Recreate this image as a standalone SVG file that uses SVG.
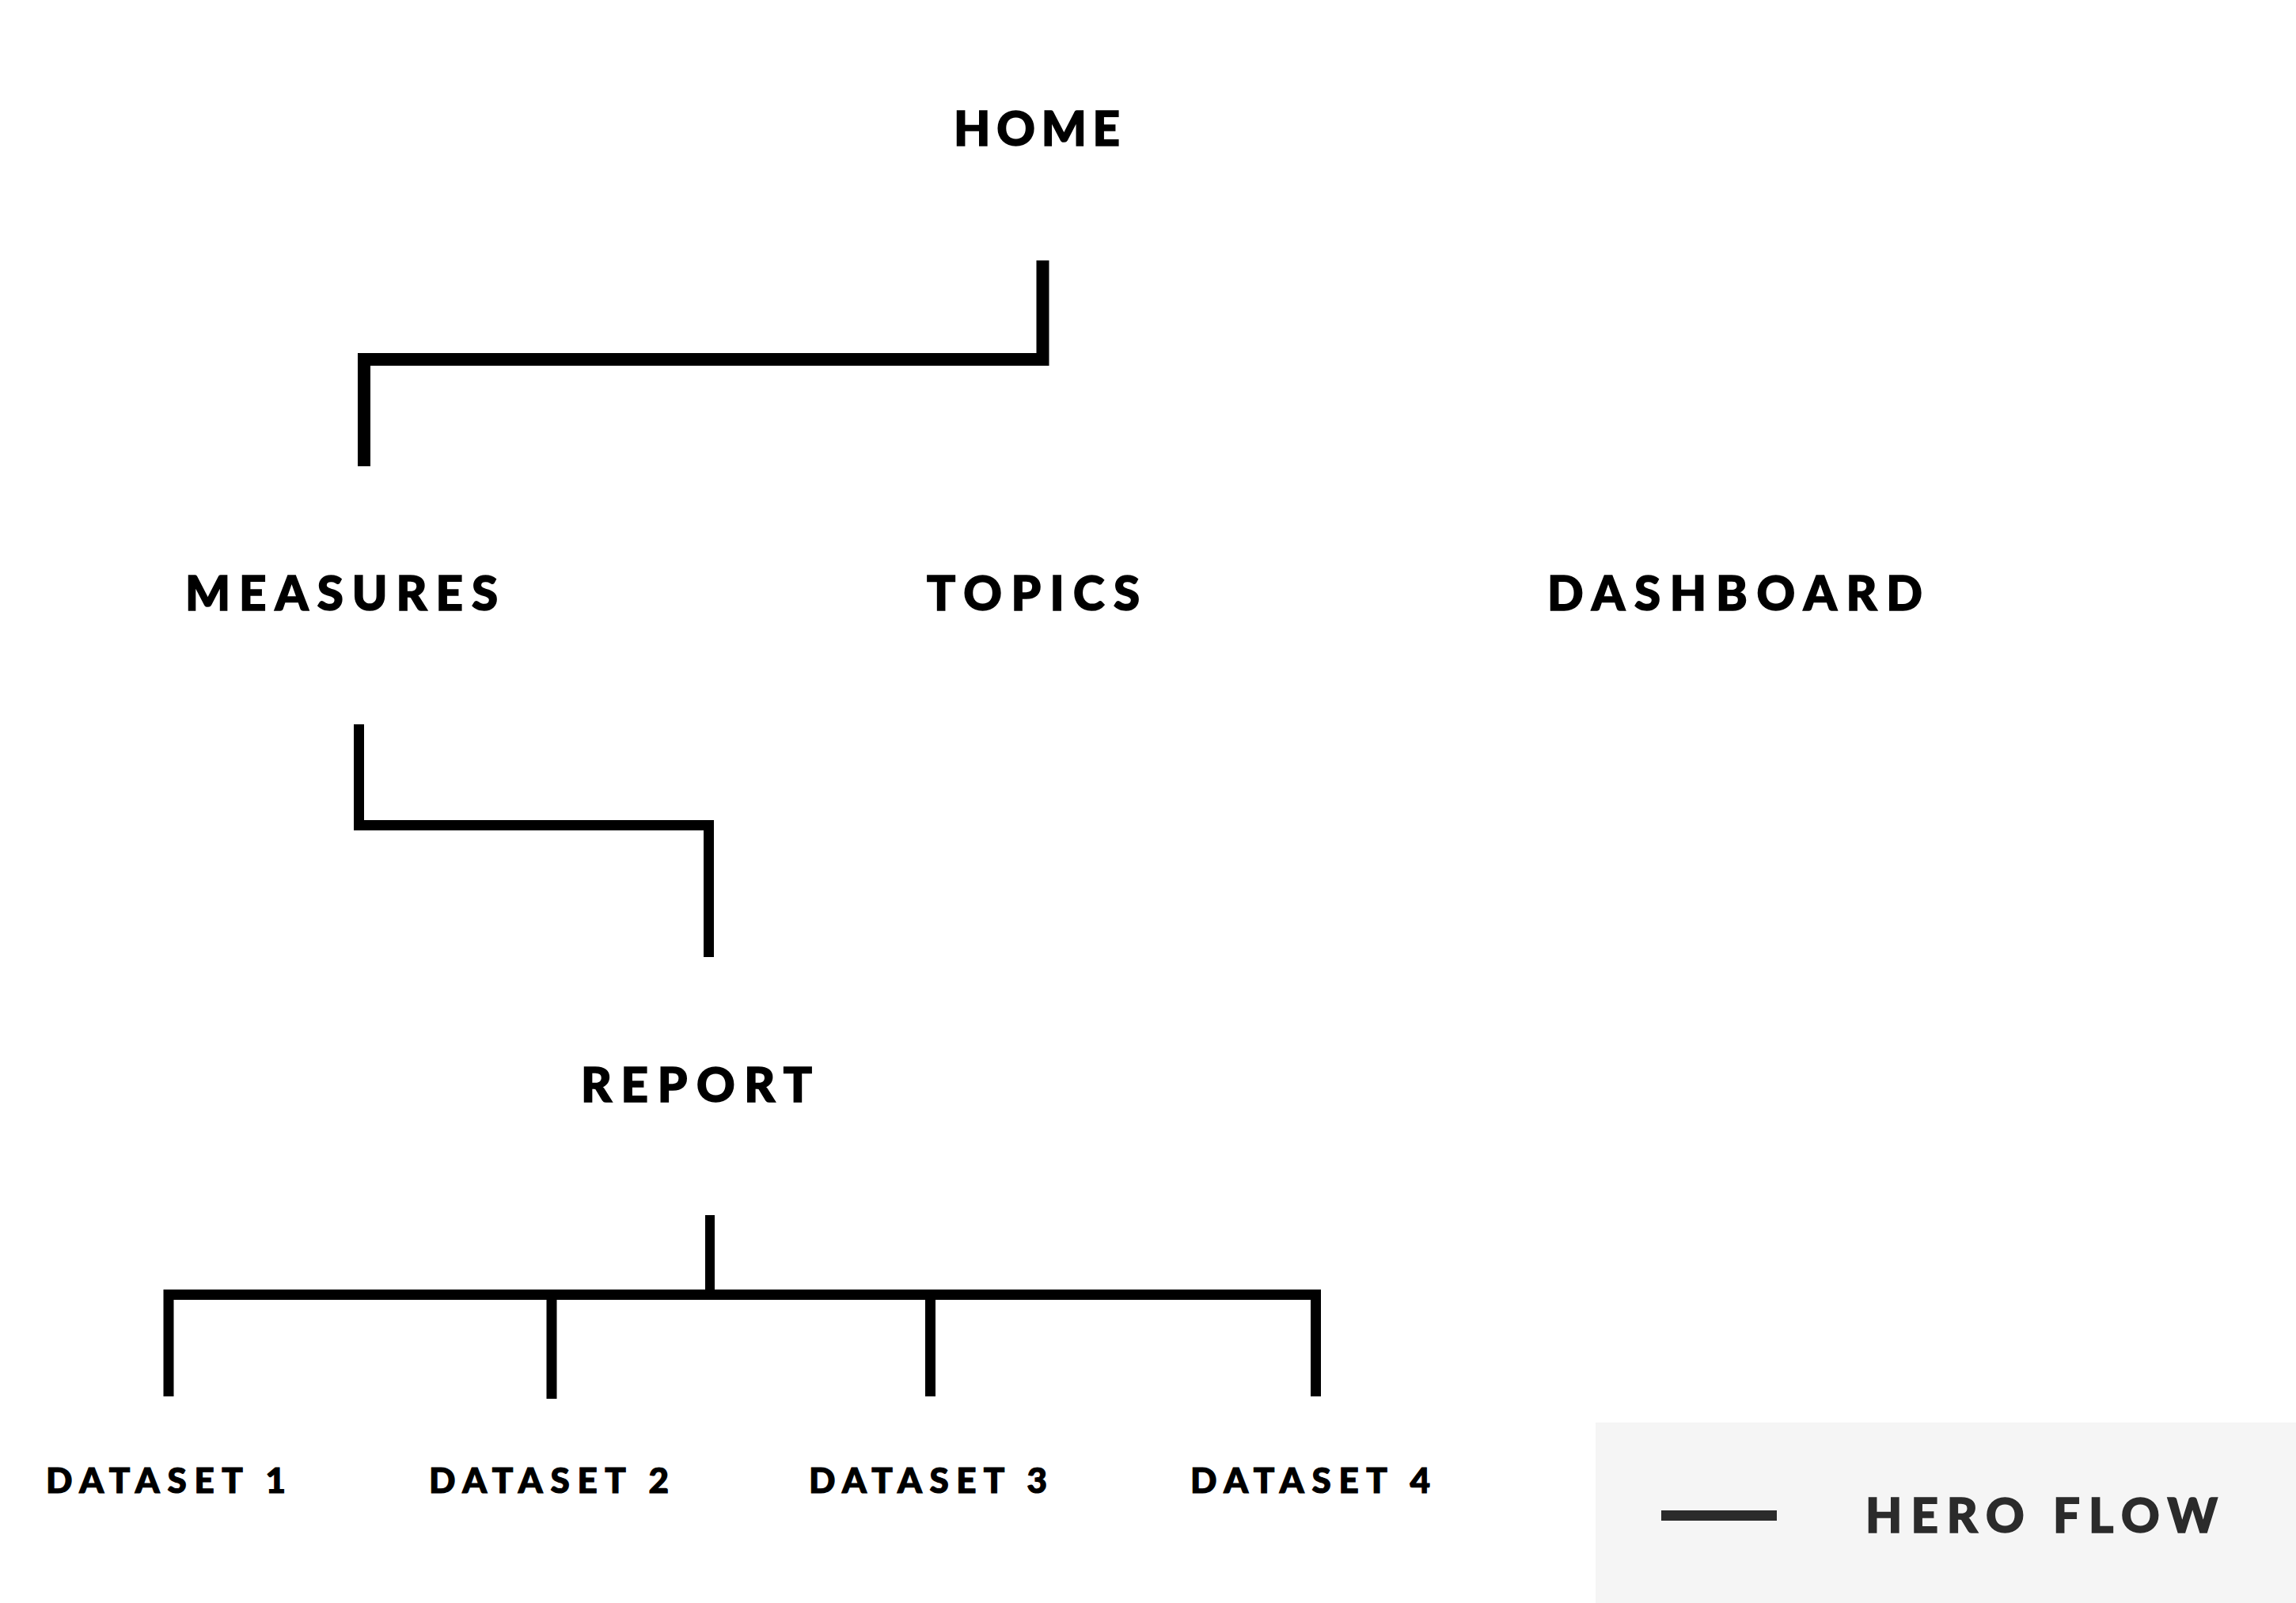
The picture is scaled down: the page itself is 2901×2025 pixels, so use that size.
<svg xmlns="http://www.w3.org/2000/svg" width="2901" height="2025" viewBox="0 0 2901 2025">
<style>
.lbl{font-family:Lato,"Open Sans","Liberation Sans",sans-serif;font-weight:900;font-size:60px;fill:#000;stroke:#000;stroke-width:1.6px}
.sm{font-size:44px;stroke-width:1.2px}
.lg{fill:#2b2b2b;stroke:#2b2b2b}
.cn{fill:none;stroke:#000;stroke-linecap:butt;stroke-linejoin:miter}
</style>
<rect width="2901" height="2025" fill="#fff"/>
<g id="connectors">
<path class="cn" stroke-width="16" d="M1317.5 329 V454 H460 V589"/>
<path class="cn" stroke-width="13" d="M453.5 915 V1042.5 H895.5 V1209"/>
<path class="cn" stroke-width="12" d="M897 1535 V1636"/>
<path class="cn" stroke-width="13" d="M213 1764 V1635.5 H1662.5 V1764"/>
<path class="cn" stroke-width="13" d="M697 1636 V1767"/>
<path class="cn" stroke-width="13" d="M1175.5 1636 V1764"/>
</g>
<g id="home"><text class="lbl" x="1205" y="184" textLength="210" lengthAdjust="spacing">HOME</text></g>
<g id="measures"><text class="lbl" x="234" y="771" textLength="395" lengthAdjust="spacing">MEASURES</text></g>
<g id="topics"><text class="lbl" x="1171" y="771" textLength="269" lengthAdjust="spacing">TOPICS</text></g>
<g id="dashboard"><text class="lbl" x="1955" y="771" textLength="474" lengthAdjust="spacing">DASHBOARD</text></g>
<g id="report"><text class="lbl" x="734" y="1392" textLength="292" lengthAdjust="spacing">REPORT</text></g>
<g id="dataset1"><text class="lbl sm" x="58" y="1886" textLength="303" lengthAdjust="spacing">DATASET 1</text></g>
<g id="dataset2"><text class="lbl sm" x="542" y="1886" textLength="303" lengthAdjust="spacing">DATASET 2</text></g>
<g id="dataset3"><text class="lbl sm" x="1022" y="1886" textLength="301" lengthAdjust="spacing">DATASET 3</text></g>
<g id="dataset4"><text class="lbl sm" x="1504" y="1886" textLength="303" lengthAdjust="spacing">DATASET 4</text></g>
<g id="legend">
<rect x="2016" y="1797" width="885" height="228" fill="#f5f5f5"/>
<line x1="2099" y1="1914.5" x2="2245" y2="1914.5" stroke="#2b2b2b" stroke-width="13"/>
<text class="lbl lg" x="2357" y="1936" textLength="445" lengthAdjust="spacing">HERO FLOW</text>
</g>
</svg>
